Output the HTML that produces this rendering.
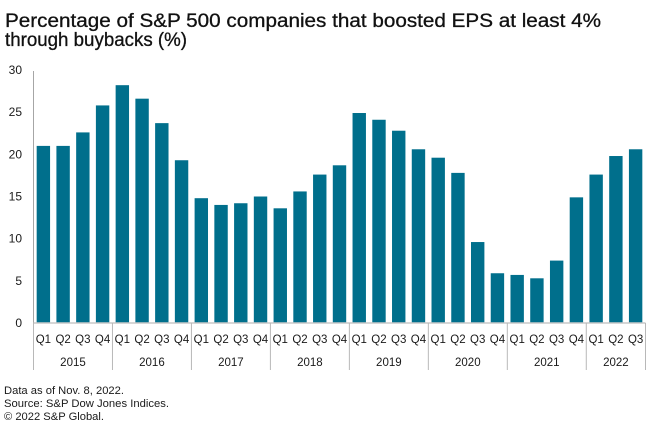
<!DOCTYPE html>
<html>
<head>
<meta charset="utf-8">
<style>
html,body{margin:0;padding:0;background:#fff;width:660px;height:433px;overflow:hidden}
svg{display:block}
text{font-family:"Liberation Sans",sans-serif;fill:#1a1a1a}
</style>
</head>
<body>
<svg id="chart" width="660" height="433" viewBox="0 0 660 433" xmlns="http://www.w3.org/2000/svg">
  <text x="5" y="27" font-size="19" textLength="596" lengthAdjust="spacingAndGlyphs" style="fill:#111;stroke:#111;stroke-width:0.3">Percentage of S&amp;P 500 companies that boosted EPS at least 4%</text>
  <text x="5" y="46" font-size="19" textLength="182" lengthAdjust="spacingAndGlyphs" style="fill:#111;stroke:#111;stroke-width:0.3">through buybacks (%)</text>
  <g id="bars"></g>
  <g id="axes"></g>
  <text x="4" y="394" font-size="11" textLength="120" lengthAdjust="spacingAndGlyphs">Data as of Nov. 8, 2022.</text>
  <text x="4" y="407" font-size="11" textLength="165" lengthAdjust="spacingAndGlyphs">Source: S&amp;P Dow Jones Indices.</text>
  <text x="4" y="420" font-size="11" textLength="100" lengthAdjust="spacingAndGlyphs">© 2022 S&amp;P Global.</text>
</svg>
<script>
const years = ['2015','2016','2017','2018','2019','2020','2021','2022'];
const quarters = ['Q1','Q2','Q3','Q4'];
const quarterCounts = [4,4,4,4,4,4,4,3];
const values = [21,21,22.6,25.8,28.2,26.6,23.7,19.3,14.8,14,14.2,15,13.6,15.6,17.6,18.7,24.9,24.1,22.8,20.6,19.6,17.8,9.6,5.9,5.7,5.3,7.4,14.9,17.6,19.8,20.6];
const yTicks = [0,5,10,15,20,25,30];

const NS = 'http://www.w3.org/2000/svg';
const plotLeft = 33.5, plotRight = 645.5, plotBase = 323, plotTop = 70;
const yMax = 30;
const step = (plotRight - plotLeft) / values.length;
const barWidth = 13.4;
function xPos(i){ return plotLeft + step * i; }
function yPos(v){ return plotBase - (plotBase - plotTop) * v / yMax; }
function make(tag, attrs, parent, text){
  const el = document.createElementNS(NS, tag);
  for (const k in attrs) el.setAttribute(k, attrs[k]);
  if (text !== undefined) el.textContent = text;
  parent.appendChild(el);
  return el;
}
const barsG = document.getElementById('bars');
const axesG = document.getElementById('axes');

values.forEach(function(v, i){
  const b = make('rect', {x: xPos(i) + (step - barWidth) / 2, y: yPos(v), width: barWidth, height: plotBase - yPos(v), fill: '#006f8c'}, barsG);
  
  
});

const yAxis = make('line', {x1: plotLeft, x2: plotLeft, y1: plotTop + 1, y2: plotBase, stroke: '#a6a6a6', 'stroke-width': 1}, axesG);


const xAxis = make('line', {x1: plotLeft, x2: plotRight, y1: plotBase, y2: plotBase, stroke: '#c8c8c8', 'stroke-width': 1.4}, axesG);



yTicks.forEach(function(t){
  const l = make('text', {x: 22, y: yPos(t) + 4, 'font-size': 12, 'text-anchor': 'end'}, axesG, String(t));
  
  
});

let idx = 0;
function divider(i){
  const d = make('line', {x1: xPos(i), x2: xPos(i), y1: plotBase, y2: 370, stroke: '#b8b8b8', 'stroke-width': 1}, axesG);
  
  
}
years.forEach(function(y, yi){
  const n = quarterCounts[yi];
  divider(idx);
  for (let q = 0; q < n; q++){
    const ql = make('text', {x: xPos(idx + q) + step / 2, y: 343, 'font-size': 11.5, 'text-anchor': 'middle'}, axesG, quarters[q]);
    
    
  }
  const yl = make('text', {x: xPos(idx) + step * n / 2, y: 366, 'font-size': 11.5, 'text-anchor': 'middle'}, axesG, y);
  
  
  idx += n;
});
divider(idx);
</script>
</body>
</html>
